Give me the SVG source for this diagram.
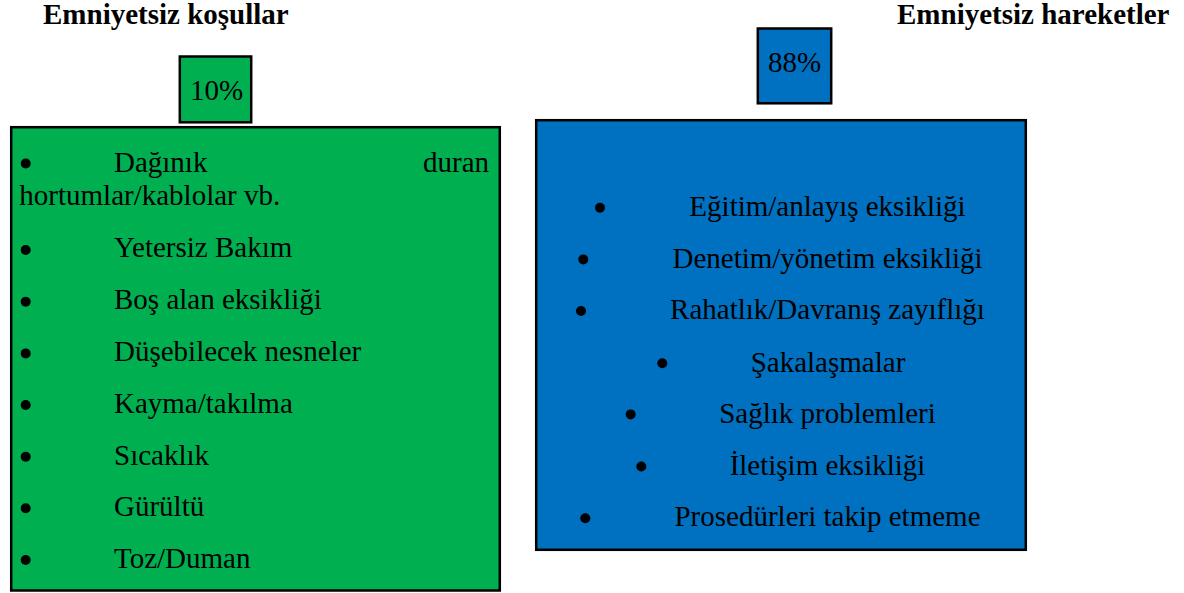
<svg xmlns="http://www.w3.org/2000/svg" width="1184" height="593" viewBox="0 0 1184 593">
  <style>
    text { font-family: 'Liberation Serif', 'DejaVu Serif', serif; fill: #000; }
    .title { font-weight: bold; font-size: 29px; }
    .txt { font-size: 29px; }
    .ctr { text-anchor: middle; }
    .green { fill: #00B050; stroke: #000; stroke-width: 2.5; }
    .blue { fill: #0070C0; stroke: #000; stroke-width: 2.5; }
    .dot { fill: #000; }
  </style>
  <rect width="1184" height="593" fill="#ffffff"/>

  <g id="title-left">
    <text class="title" x="43" y="24">Emniyetsiz koşullar</text>
  </g>
  <g id="title-right">
    <text class="title" x="897" y="24">Emniyetsiz hareketler</text>
  </g>

  <g id="pct-left">
    <rect class="green" x="179.8" y="56.5" width="71.4" height="65.8"/>
    <text class="txt" x="190" y="99.5">10%</text>
  </g>
  <g id="pct-right">
    <rect class="blue" x="757.8" y="28.5" width="73.4" height="74.8"/>
    <text class="txt" x="768" y="71.7">88%</text>
  </g>

  <g id="conditions">
    <rect class="green" x="11.2" y="127.2" width="488.6" height="463.3"/>
    <circle class="dot" cx="25.7" cy="163.5" r="5"/>
    <text class="txt" x="114" y="171.7">Dağınık</text>
    <text class="txt" x="489" y="171.7" text-anchor="end">duran</text>
    <text class="txt" x="19.3" y="205">hortumlar/kablolar vb.</text>
    <circle class="dot" cx="25.7" cy="250" r="5"/>
    <text class="txt" x="114" y="257.3">Yetersiz Bakım</text>
    <circle class="dot" cx="25.7" cy="301.7" r="5"/>
    <text class="txt" x="114" y="309.3">Boş alan eksikliği</text>
    <circle class="dot" cx="25.7" cy="353.4" r="5"/>
    <text class="txt" x="114" y="361">Düşebilecek nesneler</text>
    <circle class="dot" cx="25.7" cy="405" r="5"/>
    <text class="txt" x="114" y="413">Kayma/takılma</text>
    <circle class="dot" cx="25.7" cy="456.7" r="5"/>
    <text class="txt" x="114" y="464.7">Sıcaklık</text>
    <circle class="dot" cx="25.7" cy="508.3" r="5"/>
    <text class="txt" x="114" y="516.3">Gürültü</text>
    <circle class="dot" cx="25.7" cy="560" r="5"/>
    <text class="txt" x="114" y="568">Toz/Duman</text>
  </g>

  <g id="actions">
    <rect class="blue" x="536.2" y="120.2" width="489.6" height="429.6"/>
    <circle class="dot" cx="600" cy="207.8" r="5"/>
    <text class="txt ctr" x="827.5" y="216">Eğitim/anlayış eksikliği</text>
    <circle class="dot" cx="583.3" cy="259.4" r="5"/>
    <text class="txt ctr" x="827.5" y="267.7">Denetim/yönetim eksikliği</text>
    <circle class="dot" cx="581" cy="311" r="5"/>
    <text class="txt ctr" x="827.5" y="319.4">Rahatlık/Davranış zayıflığı</text>
    <circle class="dot" cx="662.3" cy="363.3" r="5"/>
    <text class="txt ctr" x="828" y="371.5">Şakalaşmalar</text>
    <circle class="dot" cx="630.7" cy="414.4" r="5"/>
    <text class="txt ctr" x="827.5" y="422.8">Sağlık problemleri</text>
    <circle class="dot" cx="641.3" cy="466.5" r="5"/>
    <text class="txt ctr" x="827.5" y="474.8">İletişim eksikliği</text>
    <circle class="dot" cx="585.3" cy="518.3" r="5"/>
    <text class="txt ctr" x="827.5" y="526.4">Prosedürleri takip etmeme</text>
  </g>
</svg>
